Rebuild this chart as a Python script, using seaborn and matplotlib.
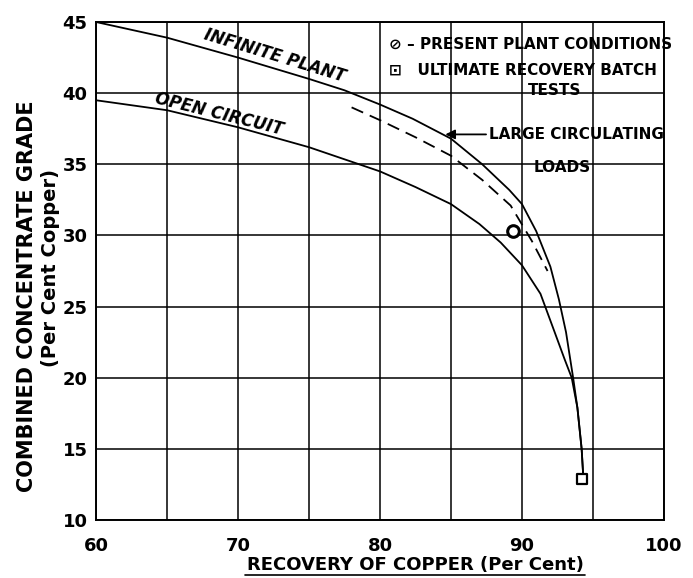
import numpy as np
import pandas as pd
import matplotlib
matplotlib.use("Agg")
import matplotlib.pyplot as plt
from matplotlib.ticker import MultipleLocator
import seaborn as sns

# ---- data ----
inf_x = [60, 65, 70, 75, 77.5, 80, 82.3, 85, 87.2, 89.1, 90, 91, 92, 92.6, 93.1, 93.6, 93.9, 94.2, 94.3]
inf_y = [45, 43.9, 42.5, 41.0, 40.2, 39.2, 38.2, 36.8, 35.0, 33.2, 32.2, 30.3, 27.8, 25.5, 23.2, 20.0, 17.9, 15.0, 13.3]

open_x = [60, 65, 70, 75, 80, 82.5, 85, 87, 88.5, 90, 91.3, 92.3, 93, 93.5, 93.9, 94.2, 94.3]
open_y = [39.5, 38.8, 37.6, 36.2, 34.5, 33.4, 32.2, 30.8, 29.5, 27.9, 25.9, 23.2, 21.3, 20.0, 17.9, 15.0, 13.3]

load_x = [78, 80, 82.5, 85, 87.2, 89.2, 90.7, 91.8]
load_y = [39.0, 38.1, 36.9, 35.6, 33.9, 32.1, 29.6, 27.5]

plant_pt = (89.4, 30.3)
batch_pt = (94.2, 12.9)

x_ticks = [60, 70, 80, 90, 100]
y_ticks = [10, 15, 20, 25, 30, 35, 40, 45]

df = pd.concat([
    pd.DataFrame({"x": inf_x, "y": inf_y, "curve": "Infinite plant"}),
    pd.DataFrame({"x": open_x, "y": open_y, "curve": "Open circuit"}),
    pd.DataFrame({"x": load_x, "y": load_y, "curve": "Large circulating loads"}),
])

sns.set_style("white")
plt.rcParams["font.family"] = ["DejaVu Sans"]
plt.rcParams["text.color"] = "black"
plt.rcParams["xtick.color"] = "black"
plt.rcParams["ytick.color"] = "black"

fig = plt.figure(figsize=(6.93, 5.78), dpi=100)
ax = fig.add_axes([96 / 693, 1 - 520 / 578, (664 - 96) / 693, (520 - 22) / 578])

sns.lineplot(data=df, x="x", y="y", hue="curve", style="curve",
             palette={"Infinite plant": "black", "Open circuit": "black",
                      "Large circulating loads": "black"},
             dashes={"Infinite plant": "", "Open circuit": "",
                     "Large circulating loads": (7, 4)},
             sort=False, estimator=None, linewidth=1.3, legend=False, ax=ax)

sns.scatterplot(x=[plant_pt[0]], y=[plant_pt[1]], marker="o", s=70,
                facecolor="white", edgecolor="black", linewidth=2.2, ax=ax, zorder=5)
sns.scatterplot(x=[batch_pt[0]], y=[batch_pt[1]], marker="s", s=45,
                facecolor="white", edgecolor="black", linewidth=1.6, ax=ax, zorder=5)

ax.set_xlim(60, 100)
ax.set_ylim(10, 45)
ax.xaxis.set_minor_locator(MultipleLocator(5))
ax.set_xticks(x_ticks)
ax.set_yticks(y_ticks)
ax.grid(True, which="both", color="black", linewidth=1.1)
ax.set_axisbelow(True)
for s in ax.spines.values():
    s.set_color("black")
    s.set_linewidth(1.4)
ax.tick_params(axis="both", which="both", length=0)
ax.tick_params(axis="x", pad=12)
ax.tick_params(axis="y", pad=6)
for lab in ax.get_xticklabels() + ax.get_yticklabels():
    lab.set_fontweight("bold")
    lab.set_fontsize(13)

ax.set_xlabel("")
ax.set_ylabel("")

# axis titles
fig.text(415 / 693, 1 - 565 / 578, "RECOVERY OF COPPER (Per Cent)", ha="center", va="center",
         fontsize=13, fontweight="bold")
fig.add_artist(plt.Line2D([245 / 693, 585 / 693], [1 - 575 / 578, 1 - 575 / 578],
                          color="black", linewidth=1.2))
fig.text(27 / 693, 1 - 296 / 578, "COMBINED CONCENTRATE GRADE", rotation=90,
         ha="center", va="center", fontsize=15, fontweight="bold")
fig.text(51 / 693, 1 - 268 / 578, "(Per Cent Copper)", rotation=90,
         ha="center", va="center", fontsize=14, fontweight="bold")

# curve labels
ax.text(72.6, 42.6, "INFINITE PLANT", rotation=-17, ha="center", va="center",
        fontsize=12, fontweight="bold", style="italic")
ax.text(68.7, 38.5, "OPEN CIRCUIT", rotation=-14, ha="center", va="center",
        fontsize=12, fontweight="bold", style="italic")

# legend text
ax.text(80.6, 43.4, "⊘ – PRESENT PLANT CONDITIONS", ha="left", va="center",
        fontsize=11, fontweight="bold", clip_on=False)
ax.text(80.6, 41.6, "⊡   ULTIMATE RECOVERY BATCH", ha="left", va="center",
        fontsize=11, fontweight="bold", clip_on=False)
ax.text(92.3, 40.2, "TESTS", ha="center", va="center", fontsize=11, fontweight="bold")

# large circulating loads annotation
ax.annotate("LARGE CIRCULATING", xy=(84.6, 37.1), xytext=(87.7, 37.1),
            ha="left", va="center", fontsize=11, fontweight="bold",
            arrowprops=dict(arrowstyle="-|>", color="black", lw=1.3,
                            shrinkA=0, shrinkB=0, mutation_scale=14))
ax.text(92.8, 34.8, "LOADS", ha="center", va="center", fontsize=11, fontweight="bold")

fig.savefig("out.png", dpi=100)
